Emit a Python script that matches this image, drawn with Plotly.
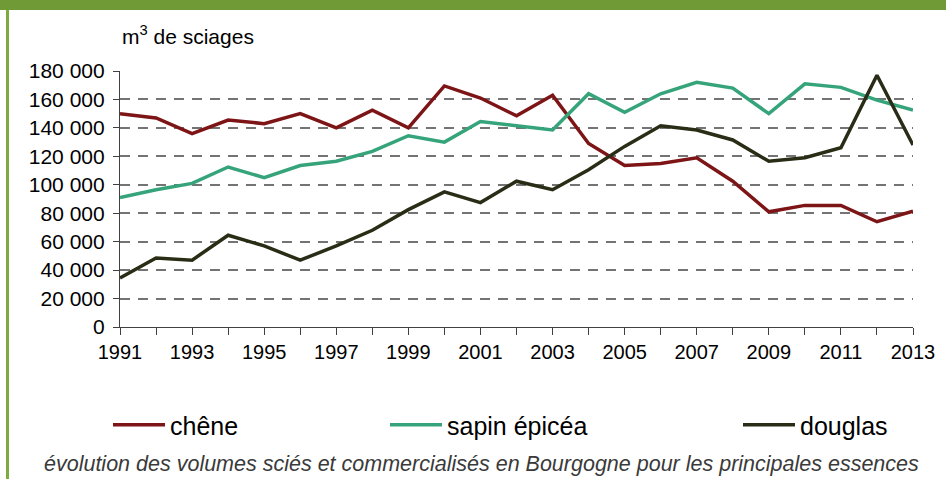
import plotly.graph_objects as go

annees = list(range(1991, 2014))

chene = [150000, 147000, 136000, 145500, 143000, 150000, 140000, 152500, 140000, 169500,
         161000, 148500, 163000, 129000, 113500, 115000, 119000, 102500, 81000, 85500,
         85500, 74000, 81500]
sapin_epicea = [91000, 96500, 101000, 112500, 105000, 113500, 116500, 123500, 134500, 130000,
                144500, 141500, 138500, 164000, 151000, 164000, 172000, 168000, 150000, 171000,
                168500, 159500, 152500]
douglas = [34500, 48500, 47000, 64500, 57000, 47000, 57000, 68000, 82500, 95000,
           87500, 102500, 96500, 110500, 127000, 141500, 138500, 131500, 116500, 119000,
           126000, 177000, 128000]

y_ticks = list(range(0, 180001, 20000))
y_labels = ["0" if v == 0 else f"{v // 1000} 000" for v in y_ticks]
x_labels = [str(a) if (a - 1991) % 2 == 0 else "" for a in annees]

couleurs = {"chêne": "#7d1416", "sapin épicéa": "#36a47a", "douglas": "#2a2d16"}

W, H = 946, 479
L, R, T, B = 120, 33, 71, 152
pw, ph = W - L - R, H - T - B

fig = go.Figure()
series = [("chêne", chene, "legend", 108), ("sapin épicéa", sapin_epicea, "legend2", 385),
          ("douglas", douglas, "legend3", 738)]
legendes = {}
for nom, vals, leg, gauche in series:
    fig.add_trace(go.Scatter(x=annees, y=vals, mode="lines", name=nom, legend=leg,
                             line=dict(color=couleurs[nom], width=3.5)))
    legendes[leg] = dict(x=(gauche - L) / pw, xanchor="left", y=(H - B - 425) / ph, yanchor="middle",
                         font=dict(size=25), itemwidth=52, bgcolor="rgba(0,0,0,0)",
                         orientation="h")

fig.update_layout(
    width=W, height=H,
    margin=dict(l=L, r=R, t=T, b=B),
    plot_bgcolor="white", paper_bgcolor="white",
    font=dict(family="Liberation Sans, Arial", color="black", size=20),
    showlegend=True,
    **legendes,
)

fig.update_xaxes(range=[1991, 2013], tickvals=annees, ticktext=x_labels,
                 ticks="outside", ticklen=7, tickcolor="#404040", tickwidth=1,
                 showline=True, linecolor="#404040", linewidth=1.2,
                 showgrid=False, zeroline=False, tickfont=dict(size=20))
fig.update_yaxes(range=[0, 180000], tickvals=y_ticks, ticktext=y_labels,
                 ticks="outside", ticklen=6, tickcolor="#404040", ticklabelstandoff=4,
                 showline=True, linecolor="#404040", linewidth=1.2,
                 showgrid=True, gridcolor="#747474", griddash="10px,8px", gridwidth=1.5,
                 zeroline=False, tickfont=dict(size=21))

# titre de l'axe
fig.add_annotation(text="m<sup>3</sup> de sciages", xref="paper", yref="paper",
                   x=(120 - L) / pw, y=(H - B - 35) / ph, xanchor="left", yanchor="middle",
                   showarrow=False, font=dict(size=21))
# légende du graphique
fig.add_annotation(text="<i>évolution des volumes sciés et commercialisés en Bourgogne pour les principales essences</i>",
                   xref="paper", yref="paper", x=(481 - L) / pw, y=(H - B - 464) / ph,
                   xanchor="center", yanchor="middle", showarrow=False,
                   font=dict(size=21.5, color="#3a3a3a"))

# cadre vert
fig.add_shape(type="rect", xref="paper", yref="paper",
              x0=-L / pw, x1=(W - L) / pw, y0=(H - B) / ph, y1=(H - B - 10) / ph,
              fillcolor="#6f9a35", line=dict(width=0), layer="below")
fig.add_shape(type="rect", xref="paper", yref="paper",
              x0=(6 - L) / pw, x1=(9 - L) / pw, y0=-B / ph, y1=(H - B - 10) / ph,
              fillcolor="#7aad3e", line=dict(width=0), layer="below")

fig.write_html("out.html", config={"displayModeBar": False},
               post_script="document.body.style.margin='0';")
